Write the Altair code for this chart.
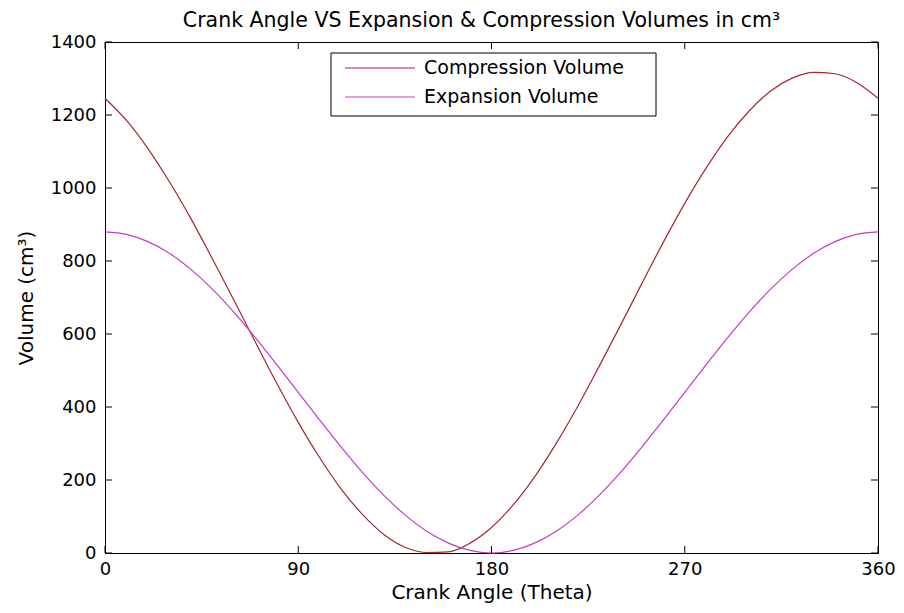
import altair as alt
import pandas as pd

# ---- data ----
angles = [0, 10, 20, 30, 40, 50, 60, 70, 80, 90, 100, 110, 120, 130, 140, 150, 160, 170, 180,
          190, 200, 210, 220, 230, 240, 250, 260, 270, 280, 290, 300, 310, 320, 330, 340, 350, 360]
compression = [1246, 1185, 1108, 1017, 916, 806, 693, 578, 465, 358, 261, 175, 105, 50, 15, 1, 3, 27, 70,
               131, 208, 299, 400, 510, 623, 738, 851, 958, 1055, 1141, 1211, 1266, 1301, 1317, 1313, 1289, 1246]
expansion = [880, 873, 853, 821, 777, 723, 660, 590, 516, 440, 364, 290, 220, 157, 103, 59, 27, 7, 0,
             7, 27, 59, 103, 157, 220, 290, 364, 440, 516, 590, 660, 723, 777, 821, 853, 873, 880]
series_names = ["Compression Volume", "Expansion Volume"]
series_colors = ["#a8252e", "#c43cc4"]
x_ticks = [0, 90, 180, 270, 360]
y_ticks = [0, 200, 400, 600, 800, 1000, 1200, 1400]

W, H = 773, 511
TICK = 7
FONT = "DejaVu Sans"
X_TITLE = "Crank Angle (Theta)"
Y_TITLE = "Volume (cm³)"

df = pd.DataFrame({
    "theta": angles + angles,
    "volume": compression + expansion,
    "series": [series_names[0]] * len(angles) + [series_names[1]] * len(angles),
})
xt = pd.DataFrame({"v": x_ticks})
yt = pd.DataFrame({"v": y_ticks})

xs = alt.Scale(domain=[0, 360], nice=False, zero=False)
ys = alt.Scale(domain=[0, 1400], nice=False)
x_axis = alt.Axis(values=x_ticks, title=X_TITLE, format="d", labelFlush=False,
                  labelPadding=7, titlePadding=4)
y_axis = alt.Axis(values=y_ticks, title=Y_TITLE, format="d", labelFlush=False,
                  labelPadding=9, titlePadding=14)

lines = alt.Chart(df).mark_line(strokeWidth=1.2, interpolate="monotone").encode(
    x=alt.X("theta:Q", scale=xs, axis=x_axis, title=X_TITLE),
    y=alt.Y("volume:Q", scale=ys, axis=y_axis, title=Y_TITLE),
    color=alt.Color("series:N",
                    scale=alt.Scale(domain=series_names, range=series_colors),
                    legend=None),
)

rule = dict(color="black", strokeWidth=1)
tb = alt.Chart(xt).mark_rule(**rule).encode(
    x=alt.X("v:Q", scale=xs, axis=x_axis, title=X_TITLE), y=alt.value(H), y2=alt.value(H - TICK))
tt = alt.Chart(xt).mark_rule(**rule).encode(
    x=alt.X("v:Q", scale=xs, axis=x_axis, title=X_TITLE), y=alt.value(0), y2=alt.value(TICK))
tl = alt.Chart(yt).mark_rule(**rule).encode(
    y=alt.Y("v:Q", scale=ys, axis=y_axis, title=Y_TITLE), x=alt.value(0), x2=alt.value(TICK))
tr = alt.Chart(yt).mark_rule(**rule).encode(
    y=alt.Y("v:Q", scale=ys, axis=y_axis, title=Y_TITLE), x=alt.value(W - TICK), x2=alt.value(W))

# ---- legend box (drawn as a boxed key inside the plot, like the original) ----
LX0, LX1, LY0, LY1 = 226, 551, 11, 74
ROW_Y = [26, 55]
legend_layers = [
    alt.Chart(pd.DataFrame({"k": [0]})).mark_rect(fill="white", stroke="black", strokeWidth=1).encode(
        x=alt.value(LX0), x2=alt.value(LX1), y=alt.value(LY0), y2=alt.value(LY1))
]
for i, (name, col) in enumerate(zip(series_names, series_colors)):
    d = pd.DataFrame({"name": [name]})
    legend_layers.append(
        alt.Chart(d).mark_rule(color=col, strokeWidth=1.2).encode(
            x=alt.value(240), x2=alt.value(310), y=alt.value(ROW_Y[i])))
    legend_layers.append(
        alt.Chart(d).mark_text(align="left", baseline="middle", font=FONT, fontSize=19,
                               color="black").encode(
            x=alt.value(319), y=alt.value(ROW_Y[i]), text="name:N"))

chart = alt.layer(lines, tb, tt, tl, tr, *legend_layers).properties(
    width=W, height=H,
    background="white",
    title=alt.TitleParams("Crank Angle VS Expansion & Compression Volumes in cm³",
                          font=FONT, fontSize=20.5, fontWeight="normal", color="black",
                          anchor="middle", offset=2, dx=-10),
    padding={"left": 97, "top": 34, "right": 18, "bottom": 52},
    autosize=alt.AutoSizeParams(type="none"),
).configure_view(stroke="black", strokeWidth=1).configure_axis(
    grid=False, ticks=False, domainColor="black", domainWidth=1,
    labelFont=FONT, labelFontSize=18, labelColor="black",
    titleFont=FONT, titleFontSize=20, titleFontWeight="normal", titleColor="black",
)

chart.save("out.html", embed_options={"renderer": "svg", "actions": False})
